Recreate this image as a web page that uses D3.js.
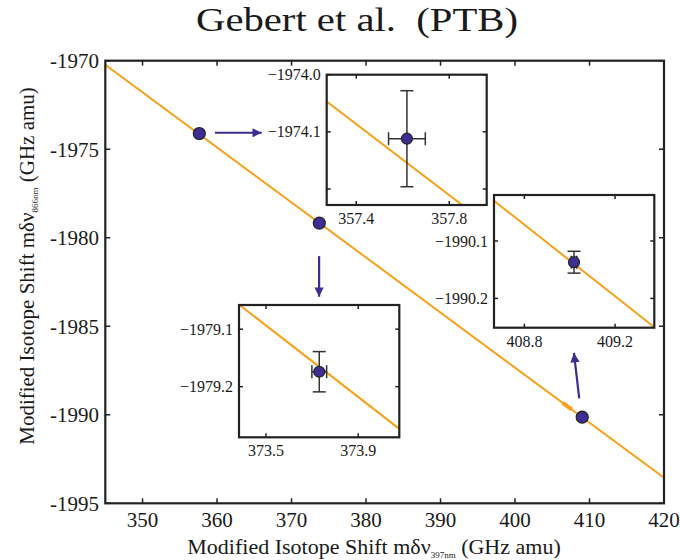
<!DOCTYPE html>
<html><head><meta charset="utf-8">
<script src="https://cdn.jsdelivr.net/npm/d3@7"></script>
</head>
<body style="margin:0;background:#fff">
<svg id="c" width="680" height="560"></svg>
<script>
// ---- data ----
const titleText = "Gebert et al.\u00a0 (PTB)";
const xTicks = [350, 360, 370, 380, 390, 400, 410, 420];
const yTicks = [-1970, -1975, -1980, -1985, -1990, -1995];
const xDomain = [345, 420];
const yDomain = [-1970, -1995];
const pointsX = [357.618, 373.731, 409.019];
const pointsY = [-1974.112, -1979.174, -1990.137];
const errX = [0.079, 0.032, 0.012];
const errY = [0.084, 0.035, 0.019];
const fitX = [345, 420];
const fitY = [-1970.230, -1993.555];
const blipX = [406.4, 407.6];
// insets
const inset1X = [357.273, 357.961], inset1Y = [-1974.0, -1974.228];
const inset1XTicks = [357.4, 357.8], inset1YTicks = [-1974.0, -1974.1], inset1YMinor = [-1974.2];
const inset2X = [373.383, 374.078], inset2Y = [-1979.058, -1979.288];
const inset2XTicks = [373.5, 373.9], inset2YTicks = [-1979.1, -1979.2];
const inset3X = [408.666, 409.373], inset3Y = [-1990.02, -1990.251];
const inset3XTicks = [408.8, 409.2], inset3YTicks = [-1990.1, -1990.2];
// arrows (data coordinates in main axes): [x1,y1,x2,y2]
const arrows = [
  [359.72, -1974.07, 366.0, -1974.07],
  [373.70, -1981.04, 373.70, -1983.33],
  [408.62, -1989.07, 407.91, -1986.51]
];

// ---- drawing ----
const FONT = "Liberation Serif";
const svg = d3.select("#c");
const ORANGE = "#f7a11a", BLUE = "#3c2e92", DARK = "#222";
const fmt1 = d3.format(".1f");

const x = d3.scaleLinear().domain(xDomain).range([105.3, 664]);
const y = d3.scaleLinear().domain(yDomain).range([60.7, 503.3]);

svg.append("defs").append("marker")
  .attr("id","ah").attr("viewBox","0 0 10 10").attr("refX",10).attr("refY",5)
  .attr("markerWidth",5).attr("markerHeight",4.2).attr("markerUnits","strokeWidth")
  .attr("orient","auto")
  .append("path").attr("d","M0,0 L10,5 L0,10 z").attr("fill",BLUE);

svg.append("clipPath").attr("id","mainclip").append("rect")
  .attr("x",x.range()[0]).attr("y",y.range()[0])
  .attr("width",x.range()[1]-x.range()[0]).attr("height",y.range()[1]-y.range()[0]);

const T = (g) => g.append("text").attr("font-family", FONT).attr("fill", "#1a1a1a");

// title
T(svg).attr("x",357).attr("y",31).attr("text-anchor","middle")
  .attr("font-size",34).attr("textLength",322).attr("lengthAdjust","spacingAndGlyphs").text(titleText);

// main fit line
const line = (sx, sy) => d3.line().x(d=>sx(d[0])).y(d=>sy(d[1]));
const fitPts = fitX.map((v,i)=>[v, fitY[i]]);
svg.append("path").attr("clip-path","url(#mainclip)")
  .attr("d", line(x,y)(fitPts)).attr("stroke",ORANGE).attr("stroke-width",2).attr("fill","none");
const blipPts = blipX.map(v=>[v, fitY[0] + (fitY[1]-fitY[0])*(v-fitX[0])/(fitX[1]-fitX[0])]);
svg.append("path").attr("d", line(x,y)(blipPts)).attr("stroke",ORANGE).attr("stroke-width",4).attr("fill","none");

function drawFrame(g, sx, sy, xt, yt, tickLen, sw) {
  const [x0,x1] = sx.range(), [y0,y1] = sy.range();
  g.append("rect").attr("x",x0).attr("y",y0).attr("width",x1-x0).attr("height",y1-y0)
    .attr("fill","none").attr("stroke",DARK).attr("stroke-width",sw);
  xt.forEach(t=>{
    g.append("line").attr("x1",sx(t)).attr("x2",sx(t)).attr("y1",y1).attr("y2",y1-tickLen).attr("stroke",DARK).attr("stroke-width",1.5);
    g.append("line").attr("x1",sx(t)).attr("x2",sx(t)).attr("y1",y0).attr("y2",y0+tickLen).attr("stroke",DARK).attr("stroke-width",1.5);
  });
  yt.forEach(t=>{
    g.append("line").attr("y1",sy(t)).attr("y2",sy(t)).attr("x1",x0).attr("x2",x0+tickLen).attr("stroke",DARK).attr("stroke-width",1.5);
    g.append("line").attr("y1",sy(t)).attr("y2",sy(t)).attr("x1",x1).attr("x2",x1-tickLen).attr("stroke",DARK).attr("stroke-width",1.5);
  });
}
const gm = svg.append("g");
drawFrame(gm, x, y, xTicks, yTicks, 5, 2.2);
xTicks.forEach(t=>{
  T(gm).attr("x",x(t)).attr("y",527).attr("text-anchor","middle").attr("font-size",21).text(t);
});
yTicks.forEach(t=>{
  T(gm).attr("x",99).attr("y",y(t)).attr("dy","0.35em").attr("text-anchor","end").attr("font-size",21).text(String(t));
});

// axis labels
const xl = T(svg).attr("x",374).attr("y",554).attr("text-anchor","middle").attr("font-size",22);
xl.append("tspan").text("Modified Isotope Shift mδν");
xl.append("tspan").attr("font-size",9).attr("dy",4).text("397nm");
xl.append("tspan").attr("dy",-4).text("\u00a0(GHz amu)");

const yl = T(svg).attr("transform","translate(34,266) rotate(-90)").attr("text-anchor","middle").attr("font-size",21);
yl.append("tspan").text("Modified Isotope Shift mδν");
yl.append("tspan").attr("font-size",9).attr("dy",4).text("866nm");
yl.append("tspan").attr("dy",-4).text("\u00a0(GHz amu)");

// main points
pointsX.forEach((px,i)=>{
  gm.append("circle").attr("cx",x(px)).attr("cy",y(pointsY[i])).attr("r",6)
    .attr("fill",BLUE).attr("stroke",DARK).attr("stroke-width",1.2);
});

// arrows
arrows.forEach(a=>{
  svg.append("line").attr("x1",x(a[0])).attr("y1",y(a[1])).attr("x2",x(a[2])).attr("y2",y(a[3]))
    .attr("stroke",BLUE).attr("stroke-width",2.2).attr("marker-end","url(#ah)");
});

// insets
function drawInset(id, frame, xd, yd, xt, yt, yMinor, idx) {
  const sx = d3.scaleLinear().domain(xd).range([frame[0], frame[1]]);
  const sy = d3.scaleLinear().domain(yd).range([frame[2], frame[3]]);
  const g = svg.append("g");
  g.append("rect").attr("x",frame[0]).attr("y",frame[2]).attr("width",frame[1]-frame[0]).attr("height",frame[3]-frame[2]).attr("fill","#fff");
  g.append("clipPath").attr("id",id).append("rect").attr("x",frame[0]).attr("y",frame[2]).attr("width",frame[1]-frame[0]).attr("height",frame[3]-frame[2]);
  g.append("path").attr("clip-path",`url(#${id})`).attr("d", line(sx,sy)(fitPts))
    .attr("stroke",ORANGE).attr("stroke-width",2).attr("fill","none");
  const cx = sx(pointsX[idx]), cy = sy(pointsY[idx]);
  const ex0 = sx(pointsX[idx]-errX[idx]), ex1 = sx(pointsX[idx]+errX[idx]);
  const ey0 = sy(pointsY[idx]+errY[idx]), ey1 = sy(pointsY[idx]-errY[idx]);
  const cap = 6.5, EC = "#333";
  g.append("line").attr("x1",cx).attr("x2",cx).attr("y1",ey0).attr("y2",ey1).attr("stroke",EC).attr("stroke-width",1.5);
  g.append("line").attr("x1",cx-cap).attr("x2",cx+cap).attr("y1",ey0).attr("y2",ey0).attr("stroke",EC).attr("stroke-width",1.5);
  g.append("line").attr("x1",cx-cap).attr("x2",cx+cap).attr("y1",ey1).attr("y2",ey1).attr("stroke",EC).attr("stroke-width",1.5);
  g.append("line").attr("x1",ex0).attr("x2",ex1).attr("y1",cy).attr("y2",cy).attr("stroke",EC).attr("stroke-width",1.5);
  g.append("line").attr("x1",ex0).attr("x2",ex0).attr("y1",cy-cap).attr("y2",cy+cap).attr("stroke",EC).attr("stroke-width",1.5);
  g.append("line").attr("x1",ex1).attr("x2",ex1).attr("y1",cy-cap).attr("y2",cy+cap).attr("stroke",EC).attr("stroke-width",1.5);
  g.append("circle").attr("cx",cx).attr("cy",cy).attr("r",5.5).attr("fill",BLUE).attr("stroke",DARK).attr("stroke-width",1.2);
  drawFrame(g, sx, sy, xt, yt.concat(yMinor), 4, 2.2);
  xt.forEach(t=>{
    T(g).attr("x",sx(t)).attr("y",frame[3]+19).attr("text-anchor","middle").attr("font-size",16).text(fmt1(t));
  });
  yt.forEach(t=>{
    T(g).attr("x",frame[0]-6).attr("y",sy(t)).attr("dy","0.35em").attr("text-anchor","end").attr("font-size",16).text(fmt1(t));
  });
}
drawInset("ic1",[326.7,486.7,74.7,205], inset1X, inset1Y, inset1XTicks, inset1YTicks, inset1YMinor, 0);
drawInset("ic2",[239,399.3,305,437.3], inset2X, inset2Y, inset2XTicks, inset2YTicks, [], 1);
drawInset("ic3",[494,654.3,195,327.7], inset3X, inset3Y, inset3XTicks, inset3YTicks, [], 2);
</script></body></html>
